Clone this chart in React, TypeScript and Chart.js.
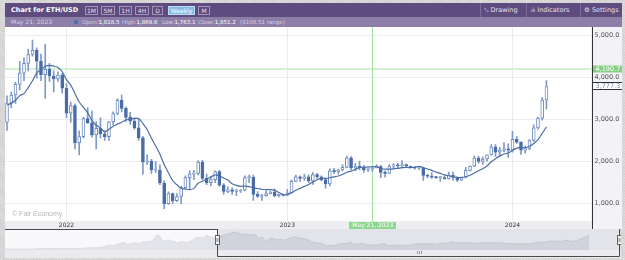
import React, { useEffect, useRef } from 'react';
import { Chart, registerables } from 'chart.js';

Chart.register(...registerables);

// ---------- data (weekly ETH/USD, first week starts 2021-09-26) ----------
const OPEN = [
  2930, 3390, 3580, 3830, 4100, 4330, 4540, 4640, 4380, 4060,
  4190, 4030, 3960, 4050, 3740, 3150, 3330, 2450, 2590, 3020,
  2920, 2630, 2790, 2660, 2590, 2940, 3140, 3450, 3260, 3050,
  2960, 2800, 2560, 1990, 2010, 1800, 1800, 1490, 1000, 1240,
  1070, 1170, 1380, 1620, 1700, 1720, 1990, 1600, 1500, 1570,
  1760, 1440, 1290, 1330, 1290, 1300, 1320, 1620, 1630, 1220,
  1170, 1190, 1240, 1270, 1190, 1220, 1200, 1260, 1530, 1640,
  1600, 1640, 1540, 1690, 1640, 1570, 1470, 1780, 1760, 1800,
  1860, 2090, 1850, 1880, 1860, 1800, 1818.5, 1851.2, 1880, 1740,
  1720, 1890, 1920, 1900, 1930, 1890, 1860, 1840, 1850, 1670,
  1650, 1630, 1620, 1620, 1590, 1670, 1630, 1560, 1630, 1790,
  1890, 2080, 2000, 2060, 2160, 2350, 2220, 2270, 2300, 2270,
  2530, 2460, 2270, 2310, 2500, 2800, 3030, 3460,
];
const HIGH = [
  3560, 3650, 3880, 4380, 4460, 4670, 4880, 4700, 4550, 4780,
  4330, 4150, 4130, 4100, 3850, 3410, 3370, 2730, 3050, 3280,
  3200, 2950, 3040, 2730, 2950, 3180, 3490, 3580, 3300, 3170,
  3030, 3000, 2600, 2160, 2050, 2000, 1920, 1540, 1280, 1250,
  1240, 1420, 1660, 1780, 1790, 2020, 2030, 1700, 1650, 1780,
  1790, 1480, 1400, 1380, 1340, 1340, 1660, 1680, 1680, 1290,
  1220, 1310, 1300, 1350, 1230, 1230, 1340, 1560, 1680, 1660,
  1700, 1680, 1740, 1720, 1660, 1600, 1830, 1840, 1820, 1930,
  2130, 2120, 1960, 2010, 1910, 1850, 1869.6, 1930, 1910, 1780,
  1930, 1950, 1960, 2020, 1940, 1890, 1880, 1870, 1850, 1690,
  1740, 1650, 1650, 1660, 1750, 1750, 1640, 1630, 1860, 1900,
  2130, 2130, 2110, 2160, 2400, 2400, 2340, 2450, 2420, 2720,
  2590, 2470, 2370, 2520, 2870, 3050, 3520, 3920,
];
const LOW = [
  2740, 3280, 3380, 3700, 3920, 4150, 4500, 3980, 3920, 3500,
  3900, 3650, 3900, 3620, 3040, 2930, 2300, 2160, 2560, 2900,
  2580, 2300, 2560, 2500, 2500, 2870, 3110, 3180, 2950, 2880,
  2770, 2500, 1700, 1930, 1720, 1740, 1450, 880, 980, 1000,
  1050, 1000, 1360, 1360, 1570, 1680, 1570, 1450, 1420, 1500,
  1410, 1220, 1260, 1220, 1190, 1270, 1300, 1500, 1080, 1150,
  1080, 1180, 1230, 1160, 1160, 1180, 1190, 1250, 1520, 1530,
  1550, 1500, 1460, 1600, 1540, 1370, 1420, 1710, 1700, 1780,
  1850, 1810, 1780, 1800, 1740, 1760, 1763.1, 1850, 1620, 1630,
  1720, 1830, 1840, 1850, 1860, 1850, 1820, 1810, 1550, 1610,
  1600, 1600, 1530, 1580, 1580, 1550, 1520, 1550, 1610, 1770,
  1880, 1960, 1930, 2010, 2150, 2120, 2140, 2230, 2100, 2220,
  2430, 2170, 2200, 2280, 2480, 2770, 2980, 3250,
];
const CLOSE = [
  3390, 3580, 3830, 4100, 4330, 4540, 4640, 4380, 4060, 4190,
  4030, 3960, 4050, 3740, 3150, 3330, 2450, 2590, 3020, 2920,
  2630, 2790, 2660, 2590, 2940, 3140, 3450, 3260, 3050, 2960,
  2800, 2560, 1990, 2010, 1800, 1800, 1490, 1000, 1240, 1070,
  1170, 1380, 1620, 1700, 1720, 1990, 1600, 1500, 1570, 1760,
  1440, 1290, 1330, 1290, 1300, 1320, 1620, 1630, 1220, 1170,
  1190, 1240, 1270, 1190, 1220, 1200, 1260, 1530, 1640, 1600,
  1640, 1540, 1690, 1640, 1570, 1470, 1780, 1760, 1800, 1860,
  2090, 1850, 1880, 1860, 1800, 1818.5, 1851.2, 1880, 1740, 1720,
  1890, 1920, 1900, 1930, 1890, 1860, 1840, 1850, 1670, 1650,
  1630, 1620, 1620, 1590, 1670, 1630, 1560, 1630, 1790, 1890,
  2080, 2000, 2060, 2160, 2350, 2220, 2270, 2300, 2270, 2530,
  2460, 2270, 2310, 2500, 2800, 3030, 3460, 3777.3,
];
// moving average line as drawn on the chart
const MA = [
  3343, 3381, 3455, 3564, 3613, 3754, 3918, 4099, 4183, 4259,
  4284, 4266, 4231, 4131, 3945, 3814, 3613, 3413, 3286, 3156,
  2979, 2860, 2799, 2706, 2768, 2836, 2890, 2933, 2985, 3006,
  3024, 3020, 2901, 2760, 2554, 2371, 2176, 1931, 1736, 1550,
  1448, 1369, 1346, 1334, 1363, 1486, 1531, 1585, 1635, 1683,
  1660, 1609, 1560, 1473, 1435, 1413, 1419, 1403, 1375, 1360,
  1343, 1336, 1333, 1316, 1266, 1213, 1218, 1263, 1319, 1364,
  1410, 1454, 1513, 1568, 1606, 1599, 1616, 1636, 1656, 1696,
  1746, 1773, 1811, 1860, 1863, 1870, 1876, 1879, 1835, 1819,
  1820, 1827, 1840, 1854, 1859, 1856, 1869, 1885, 1858, 1824,
  1790, 1751, 1718, 1684, 1663, 1635, 1621, 1619, 1639, 1673,
  1730, 1781, 1830, 1896, 1995, 2069, 2129, 2180, 2204, 2270,
  2320, 2334, 2329, 2364, 2430, 2521, 2670, 2826,
];
// weekly closes before the first candle (navigator history, 2020-05 .. 2021-09)
const NAV_HISTORY = [
  211, 200, 207, 244, 241, 236, 231, 220, 229, 241,
  236, 305, 386, 395, 433, 395, 428, 335, 387, 385,
  355, 346, 370, 377, 410, 386, 454, 460, 550, 574,
  595, 568, 655, 685, 975, 1225, 1231, 1230, 1380, 1680,
  1810, 1935, 1420, 1660, 1855, 1810, 1700, 2075, 2140, 2240,
  2300, 2950, 3910, 3580, 2300, 2390, 2630, 2370, 2170, 1830,
  2230, 2140, 1890, 2190, 2460, 3160, 3270, 3240, 3230, 3940,
  3410, 3330, 2930,
];
const Y_TICKS = [1000, 2000, 3000, 4000, 5000];
const YEAR_IDX = [14, 66, 119];
const YEAR_LABELS = ['2022', '2023', '2024'];
const SEL_IDX = 86;
const SEL_LABEL = 'May 21, 2023';
const CROSS_PRICE = 4190.7;
const LAST_PRICE = 3777.3;
const VIEW_MIN = -0.47;
const VIEW_MAX = 137.6;

const FONT = '"DejaVu Sans", Verdana, sans-serif';
const WICK = '#7f9ac6';
const UP_BORDER = '#6e8cbf';
const DOWN = '#4a6ca6';
const MA_COLOR = '#4c6ea5';

function fmt(v: number) {
  const s = v.toFixed(1);
  const [i, d] = s.split('.');
  return i.replace(/\B(?=(\d{3})+(?!\d))/g, ',') + '.' + d;
}

const mainDeco = {
  id: 'mainDeco',
  beforeDraw(chart: any) {
    const { ctx, chartArea: a, width, height } = chart;
    ctx.save();
    ctx.fillStyle = '#ffffff';
    ctx.fillRect(a.left, a.top, a.right - a.left, a.bottom - a.top);
    ctx.fillStyle = '#eeeef2';
    ctx.fillRect(0, a.bottom, a.right, height - a.bottom);
    ctx.fillStyle = '#f3f3f7';
    ctx.fillRect(a.right, 0, width - a.right, height);
    ctx.restore();
  },
  beforeDatasetsDraw(chart: any) {
    const { ctx, chartArea: a, scales } = chart;
    const y = scales.y.getPixelForValue(CROSS_PRICE);
    const x = scales.x.getPixelForValue(SEL_IDX);
    ctx.save();
    ctx.fillStyle = '#d2f0d2';
    ctx.fillRect(a.left, Math.round(y) - 1, a.right - a.left, 2);
    ctx.fillStyle = '#a2e0a2';
    ctx.fillRect(Math.round(x), a.top, 1, chart.height - a.top);
    ctx.restore();
  },
  afterDraw(chart: any) {
    const { ctx, chartArea: a, scales, width, height } = chart;
    ctx.save();
    // y panel border
    ctx.strokeStyle = '#333';
    ctx.lineWidth = 1;
    ctx.beginPath();
    ctx.moveTo(Math.round(a.right) + 0.5, 0);
    ctx.lineTo(Math.round(a.right) + 0.5, height);
    ctx.stroke();
    const px = Math.round(a.right) + 1;
    ctx.font = '6.5px ' + FONT;
    ctx.textBaseline = 'middle';
    ctx.textAlign = 'left';
    // last price box
    const yl = scales.y.getPixelForValue(LAST_PRICE);
    ctx.fillStyle = '#ffffff';
    ctx.fillRect(px, Math.round(yl) - 4, width - px, 7);
    ctx.strokeStyle = '#333';
    ctx.beginPath();
    ctx.moveTo(px, Math.round(yl) - 4.5);
    ctx.lineTo(width, Math.round(yl) - 4.5);
    ctx.moveTo(px, Math.round(yl) + 2.5);
    ctx.lineTo(width, Math.round(yl) + 2.5);
    ctx.stroke();
    ctx.fillStyle = '#8090b4';
    ctx.fillText(fmt(LAST_PRICE), px + 2.5, Math.round(yl) - 1);
    // crosshair price label
    const yc = scales.y.getPixelForValue(CROSS_PRICE);
    ctx.fillStyle = '#84d184';
    ctx.fillRect(px, Math.round(yc) - 3.5, width - px, 7);
    ctx.fillStyle = '#ffffff';
    ctx.fillText(fmt(CROSS_PRICE), px + 2.5, Math.round(yc));
    // date label
    const xc = scales.x.getPixelForValue(SEL_IDX);
    ctx.font = '6px ' + FONT;
    const tw = ctx.measureText(SEL_LABEL).width + 6;
    ctx.fillStyle = '#8ed78e';
    ctx.fillRect(Math.round(xc - tw / 2), Math.round(a.bottom) + 1, Math.round(tw), height - Math.round(a.bottom) - 1);
    ctx.fillStyle = '#ffffff';
    ctx.textAlign = 'center';
    ctx.fillText(SEL_LABEL, xc + 0.5, (a.bottom + height) / 2 + 0.5);
    ctx.restore();
  },
};

const navDeco = {
  id: 'navDeco',
  beforeDatasetsDraw(chart: any) {
    const { ctx, chartArea: a, scales } = chart;
    const l = Math.round(scales.x.getPixelForValue(VIEW_MIN));
    const r = Math.round(scales.x.getPixelForValue(VIEW_MAX));
    ctx.save();
    ctx.fillStyle = '#f6f6f8';
    ctx.fillRect(0, 0, l, a.bottom);
    ctx.fillStyle = '#e3e4ea';
    ctx.fillRect(l, 0, r - l, a.bottom);
    ctx.restore();
  },
  afterDatasetsDraw(chart: any) {
    const { ctx, chartArea: a, scales, width, height } = chart;
    const l = Math.round(scales.x.getPixelForValue(VIEW_MIN));
    const r = Math.round(scales.x.getPixelForValue(VIEW_MAX));
    ctx.save();
    ctx.fillStyle = 'rgba(255,255,255,0.4)';
    ctx.fillRect(0, 0, l, a.bottom);
    ctx.fillStyle = '#ebebef';
    ctx.fillRect(0, a.bottom, width, height - a.bottom);
    ctx.strokeStyle = '#4a4a4a';
    ctx.lineWidth = 1;
    ctx.beginPath();
    ctx.moveTo(0, 0.5);
    ctx.lineTo(l, 0.5);
    ctx.moveTo(l + 0.5, 0);
    ctx.lineTo(l + 0.5, height - 1.5);
    ctx.lineTo(r - 0.5, height - 1.5);
    ctx.lineTo(r - 0.5, 0);
    ctx.stroke();
    // handles
    for (const hx of [l + 0.5, r - 0.5]) {
      ctx.fillStyle = '#f3f3f3';
      ctx.fillRect(hx - 2, 6.5, 4, 9);
      ctx.strokeStyle = '#666';
      ctx.strokeRect(hx - 2, 6.5, 4, 9);
      ctx.beginPath();
      ctx.moveTo(hx - 0.5, 9);
      ctx.lineTo(hx - 0.5, 13);
      ctx.moveTo(hx + 0.5, 9);
      ctx.lineTo(hx + 0.5, 13);
      ctx.strokeStyle = '#999';
      ctx.stroke();
    }
    // grip
    const gx = Math.round((l + r) / 2);
    ctx.strokeStyle = '#9a9aa2';
    ctx.beginPath();
    for (let k = 0; k < 3; k++) {
      ctx.moveTo(gx - 2 + k * 2 + 0.5, height - 7);
      ctx.lineTo(gx - 2 + k * 2 + 0.5, height - 4);
    }
    ctx.stroke();
    ctx.restore();
  },
};

export default function App() {
  const mainRef = useRef<HTMLCanvasElement>(null);
  const navRef = useRef<HTMLCanvasElement>(null);

  useEffect(() => {
    Chart.defaults.font.family = FONT;
    const idx = CLOSE.map((_, i) => i);
    const isUp = (i: number) => CLOSE[i] >= OPEN[i];

    const main = new Chart(mainRef.current as HTMLCanvasElement, {
      type: 'bar',
      data: {
        datasets: [
          {
            type: 'line',
            data: idx.map((i) => ({ x: i, y: MA[i] })),
            borderColor: MA_COLOR,
            borderWidth: 1.2,
            pointRadius: 0,
            tension: 0.35,
            order: 0,
          } as any,
          {
            type: 'bar',
            data: idx.map((i) => ({ x: i, y: [OPEN[i], CLOSE[i]] })),
            backgroundColor: idx.map((i) => (isUp(i) ? '#ffffff' : DOWN)),
            borderColor: idx.map((i) => (isUp(i) ? UP_BORDER : DOWN)),
            borderWidth: 1,
            borderSkipped: false,
            barThickness: 3,
            minBarLength: 1,
            grouped: false,
            order: 1,
          } as any,
          {
            type: 'bar',
            data: idx.map((i) => ({ x: i, y: [LOW[i], HIGH[i]] })),
            backgroundColor: WICK,
            borderWidth: 0,
            barThickness: 1,
            grouped: false,
            order: 2,
          } as any,
        ],
      },
      options: {
        animation: false,
        responsive: false,
        events: [],
        layout: { padding: 0 },
        plugins: { legend: { display: false }, tooltip: { enabled: false } },
        scales: {
          x: {
            type: 'linear',
            min: VIEW_MIN,
            max: VIEW_MAX,
            offset: false,
            afterBuildTicks: (s: any) => {
              s.ticks = YEAR_IDX.map((v) => ({ value: v }));
            },
            afterFit: (s: any) => {
              s.height = 8;
              s.paddingLeft = 0;
              s.paddingRight = 0;
            },
            ticks: {
              autoSkip: false,
              maxRotation: 0,
              padding: 1,
              color: '#333',
              font: { size: 6, family: FONT },
              callback: (v: any) => YEAR_LABELS[YEAR_IDX.indexOf(Number(v))] ?? '',
            },
            grid: { color: '#ececf0', drawTicks: false, offset: false },
            border: { display: false },
          },
          y: {
            type: 'linear',
            position: 'right',
            min: 589,
            max: 5193,
            afterBuildTicks: (s: any) => {
              s.ticks = Y_TICKS.map((v) => ({ value: v }));
            },
            afterFit: (s: any) => {
              s.width = 30.5;
              s.paddingTop = 0;
              s.paddingBottom = 0;
            },
            ticks: {
              padding: 3,
              color: '#555',
              font: { size: 6.5, family: FONT },
              callback: (v: any) => fmt(Number(v)),
            },
            grid: { color: '#ececf0', drawTicks: false },
            border: { display: false },
          },
        },
      } as any,
      plugins: [mainDeco],
    });

    const navData = NAV_HISTORY.map((v, i) => ({ x: i - NAV_HISTORY.length, y: v })).concat(
      CLOSE.map((v, i) => ({ x: i, y: v }))
    );
    const nav = new Chart(navRef.current as HTMLCanvasElement, {
      type: 'line',
      data: {
        datasets: [
          {
            data: navData,
            borderColor: '#c3c6d1',
            borderWidth: 1,
            backgroundColor: '#d1d3dc',
            fill: 'origin',
            pointRadius: 0,
            tension: 0.2,
          },
        ],
      },
      options: {
        animation: false,
        responsive: false,
        events: [],
        layout: { padding: { left: 0, right: 0, top: 0, bottom: 8 } },
        plugins: { legend: { display: false }, tooltip: { enabled: false } },
        scales: {
          x: { type: 'linear', min: -73.07, max: 137.9, display: false },
          y: { type: 'linear', min: 0, max: 5470, display: false },
        },
      } as any,
      plugins: [navDeco],
    });

    return () => {
      main.destroy();
      nav.destroy();
    };
  }, []);

  const btn = (t: string, l: number, w: number, active = false) => (
    <div
      key={t}
      style={{
        position: 'absolute',
        left: l,
        top: 5.5,
        width: w,
        height: 9,
        boxSizing: 'border-box',
        border: active ? '1px solid #b9dcf4' : '1px solid #a194ba',
        background: active ? '#86bbe7' : 'transparent',
        color: active ? '#ffffff' : '#e4def0',
        fontSize: 6,
        lineHeight: '7px',
        textAlign: 'center',
      }}
    >
      {t}
    </div>
  );

  const lab = { color: '#d9d2e6' };
  const val = { color: '#ffffff' };
  const info = (l: number) => ({
    position: 'absolute' as const,
    left: l,
    top: 17,
    height: 10,
    lineHeight: '10px',
    fontSize: 5.5,
    whiteSpace: 'nowrap' as const,
  });

  return (
    <div
      style={{
        position: 'fixed',
        left: 0,
        top: 0,
        width: 625,
        height: 260,
        overflow: 'hidden',
        fontFamily: FONT,
        background: 'repeating-linear-gradient(45deg, #d2d2d2 0px, #d2d2d2 1px, #dcdcdc 1px, #dcdcdc 2px)',
      }}
    >
      {/* header bar */}
      <div style={{ position: 'absolute', left: 5, top: 3, width: 617, height: 14, background: '#5e4c7e' }} />
      <div
        style={{
          position: 'absolute',
          left: 11,
          top: 3,
          height: 14,
          lineHeight: '14px',
          color: '#ffffff',
          fontWeight: 'bold',
          fontSize: 6.5,
          whiteSpace: 'nowrap',
        }}
      >
        Chart for ETH/USD
      </div>
      {btn('1M', 85, 13)}
      {btn('5M', 101, 14)}
      {btn('1H', 119, 13)}
      {btn('4H', 135, 14)}
      {btn('D', 152, 11)}
      {btn('Weekly', 168, 27, true)}
      {btn('M', 198, 12)}
      <div style={{ position: 'absolute', left: 480, top: 3, width: 1, height: 14, background: '#7b6b99' }} />
      <div style={{ position: 'absolute', left: 526, top: 3, width: 1, height: 14, background: '#7b6b99' }} />
      <div style={{ position: 'absolute', left: 580, top: 3, width: 1, height: 14, background: '#7b6b99' }} />
      <div style={{ position: 'absolute', left: 484, top: 3, height: 14, lineHeight: '14px', fontSize: 6.5, color: '#e6e1ef', whiteSpace: 'nowrap' }}>
        <span style={{ fontSize: 5 }}>°₀</span> Drawing
      </div>
      <div style={{ position: 'absolute', left: 531, top: 3, height: 14, lineHeight: '14px', fontSize: 6.5, color: '#e6e1ef', whiteSpace: 'nowrap' }}>
        <span style={{ fontSize: 5 }}>ıİı</span> Indicators
      </div>
      <div style={{ position: 'absolute', left: 584, top: 3, height: 14, lineHeight: '14px', fontSize: 6.5, color: '#e6e1ef', whiteSpace: 'nowrap' }}>
        ⚙ Settings
      </div>

      {/* info bar */}
      <div style={{ position: 'absolute', left: 5, top: 17, width: 617, height: 10, background: '#8c7ea7' }} />
      <div style={{ ...info(11), fontSize: 6, ...lab }}>May 21, 2023</div>
      <div style={{ position: 'absolute', left: 74, top: 20, width: 4, height: 4, borderRadius: 2, background: '#3d6fb3' }} />
      <div style={info(82)}>
        <span style={lab}>Open:</span>
        <span style={val}>1,818.5</span>
      </div>
      <div style={info(122)}>
        <span style={lab}>High:</span>
        <span style={val}>1,869.6</span>
      </div>
      <div style={info(162)}>
        <span style={lab}>Low:</span>
        <span style={val}>1,763.1</span>
      </div>
      <div style={info(198)}>
        <span style={lab}>Close:</span>
        <span style={val}>1,851.2</span>
      </div>
      <div style={{ ...info(240), ...lab }}>($106.51 range)</div>

      {/* main chart */}
      <div style={{ position: 'absolute', left: 5, top: 27, width: 617, height: 202 }}>
        <canvas ref={mainRef} width={617} height={202} style={{ display: 'block' }} />
      </div>
      <div
        style={{
          position: 'absolute',
          left: 12,
          top: 210,
          fontFamily: '"Liberation Sans", Arial, sans-serif',
          fontSize: 7,
          color: '#b5b5b8',
          whiteSpace: 'nowrap',
        }}
      >
        © Fair Economy
      </div>

      {/* navigator */}
      <div style={{ position: 'absolute', left: 5, top: 229, width: 616, height: 29 }}>
        <canvas ref={navRef} width={616} height={29} style={{ display: 'block' }} />
      </div>
    </div>
  );
}
